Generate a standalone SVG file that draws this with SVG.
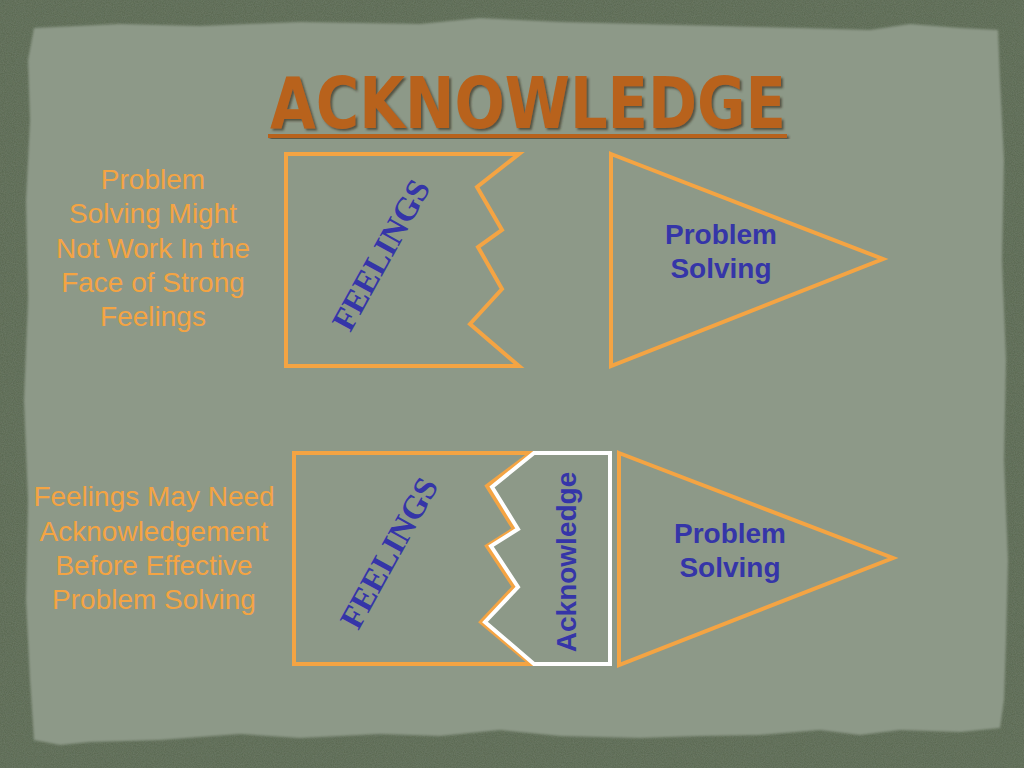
<svg xmlns="http://www.w3.org/2000/svg" width="1024" height="768" viewBox="0 0 1024 768">
  <defs>
    <filter id="grain" x="0" y="0" width="100%" height="100%">
      <feTurbulence type="fractalNoise" baseFrequency="0.9" numOctaves="2" seed="3" result="n"/>
      <feColorMatrix in="n" type="matrix" values="0 0 0 0 0.2  0 0 0 0 0.25  0 0 0 0 0.18  0 0 0 0.55 0" result="c"/>
      <feComposite in="c" in2="SourceGraphic" operator="in" result="m"/>
      <feMerge><feMergeNode in="SourceGraphic"/><feMergeNode in="m"/></feMerge>
    </filter>
    <filter id="soft" x="-5%" y="-5%" width="110%" height="110%">
      <feGaussianBlur stdDeviation="1.2"/>
    </filter>
    <filter id="shadow" x="-5%" y="-20%" width="110%" height="140%">
      <feDropShadow dx="2" dy="2" stdDeviation="1.2" flood-color="#3a3320" flood-opacity="0.7"/>
    </filter>
    <style>
      .orange { fill: none; stroke: #F4A443; stroke-width: 4; stroke-linejoin: miter; }
      .white { fill: none; stroke: #FFFFFF; stroke-width: 4; stroke-linejoin: miter; }
      .side { font-family: "Liberation Sans", Arial, sans-serif; font-size: 28px; fill: #F4A443; text-anchor: middle; }
      .ps { font-family: "Liberation Sans", Arial, sans-serif; font-size: 28px; font-weight: bold; fill: #3535A8; text-anchor: middle; }
      .feel { font-family: "Liberation Serif", "Times New Roman", serif; font-size: 33px; font-weight: bold; fill: #3535A8; text-anchor: middle; }
      .title { font-family: "DejaVu Sans", "Liberation Sans", sans-serif; font-size: 72px; font-weight: bold; fill: #B8621C; }
    </style>
  </defs>

  <!-- background frame -->
  <rect x="0" y="0" width="1024" height="768" fill="#58664F" filter="url(#grain)"/>
  <!-- paper -->
  <path d="M 34 28 L 120 24 L 200 26 L 300 22 L 420 24 L 480 18 L 560 22 L 640 24 L 720 26 L 800 28 L 870 30 L 910 24 L 960 28 L 998 30 L 1000 80 L 1004 160 L 1002 260 L 1006 360 L 1004 460 L 1008 560 L 1006 640 L 1004 700 L 1000 728 L 960 732 L 900 730 L 860 735 L 820 730 L 760 735 L 700 736 L 640 738 L 560 736 L 500 730 L 440 736 L 380 734 L 300 738 L 240 734 L 160 740 L 90 742 L 60 745 L 34 740 L 30 680 L 26 600 L 28 500 L 24 400 L 28 300 L 26 200 L 30 120 L 28 60 Z" fill="#8D9988" filter="url(#soft)"/>

  <!-- title -->
  <g id="title">
    <text class="title" x="270" y="128" textLength="516" lengthAdjust="spacingAndGlyphs" filter="url(#shadow)">ACKNOWLEDGE</text>
    <rect x="268" y="134" width="519" height="4" fill="#B8621C" filter="url(#shadow)"/>
  </g>

  <!-- top row -->
  <g id="note-top">
    <text class="side" x="153" y="189">Problem</text>
    <text class="side" x="153" y="223">Solving Might</text>
    <text class="side" x="153" y="258">Not Work In the</text>
    <text class="side" x="153" y="292">Face of Strong</text>
    <text class="side" x="153" y="326">Feelings</text>
  </g>

  <g id="feelings-top">
    <path class="orange" d="M 519 154 L 286 154 L 286 366 L 519 366 L 470 324 L 502 289 L 478 247 L 502 230 L 477 187 Z"/>
    <text class="feel" transform="translate(381,255) rotate(-61)" x="0" y="11">FEELINGS</text>
  </g>

  <g id="problem-solving-top">
    <polygon class="orange" points="611,154 883,259 611,366"/>
    <text class="ps" x="721" y="244">Problem</text>
    <text class="ps" x="721" y="278">Solving</text>
  </g>

  <!-- bottom row -->
  <g id="note-bottom">
    <text class="side" x="154" y="506">Feelings May Need</text>
    <text class="side" x="154" y="541">Acknowledgement</text>
    <text class="side" x="154" y="575">Before Effective</text>
    <text class="side" x="154" y="609">Problem Solving</text>
  </g>

  <g id="feelings-bottom">
    <path class="orange" d="M 531 453 L 294 453 L 294 664 L 531 664 L 481 622 L 514 587 L 487 546 L 514 529 L 487 486 Z"/>
    <text class="feel" transform="translate(389,553) rotate(-61)" x="0" y="11">FEELINGS</text>
  </g>

  <g id="acknowledge">
    <path class="white" d="M 534 453 L 610 453 L 610 664 L 534 664 L 485 622 L 518 587 L 491 546 L 518 529 L 492 487 Z"/>
    <text class="ps" transform="translate(566,562) rotate(-90)" x="0" y="10">Acknowledge</text>
  </g>

  <g id="problem-solving-bottom">
    <polygon class="orange" points="619,453 893,558 619,665"/>
    <text class="ps" x="730" y="543">Problem</text>
    <text class="ps" x="730" y="577">Solving</text>
  </g>

  <g id="connectors"></g>
</svg>
